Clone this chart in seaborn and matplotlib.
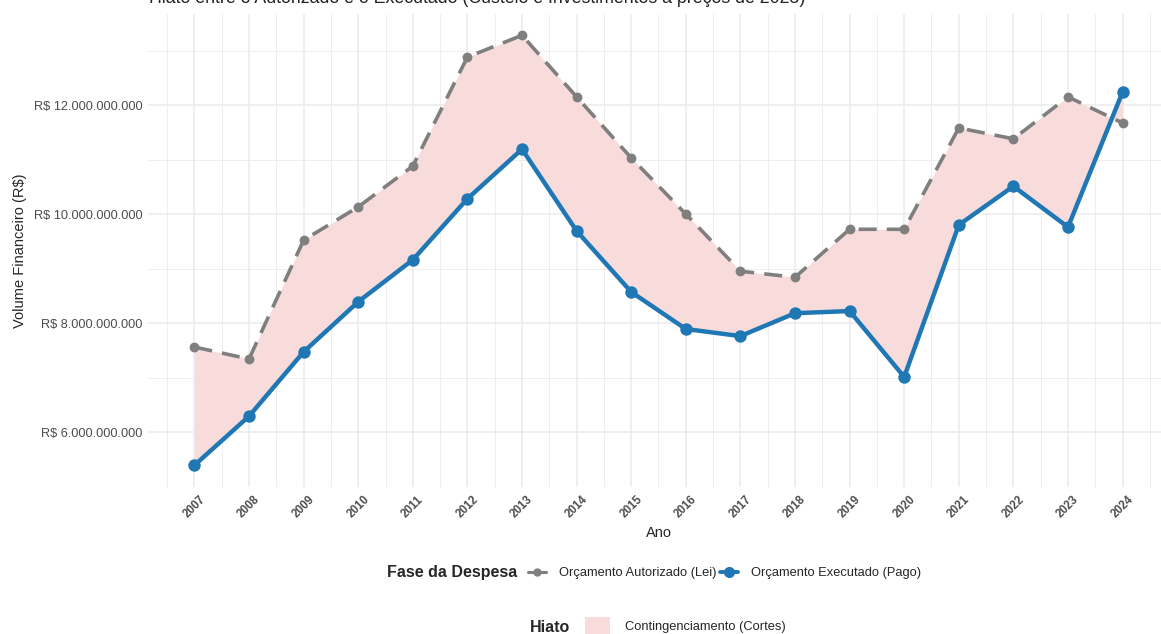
import numpy as np
import pandas as pd
import matplotlib.pyplot as plt
import seaborn as sns
from matplotlib.lines import Line2D
from matplotlib.patches import Patch

# --------------------------------------------------
# DATA (R$, precos de 2025)
# --------------------------------------------------

anos = list(range(2007, 2025))

autorizado = [
    7.56, 7.34, 9.52, 10.13, 10.88, 12.88, 13.28, 12.15, 11.03,
    10.00, 8.95, 8.84, 9.72, 9.72, 11.58, 11.38, 12.15, 11.67
]

executado = [
    5.39, 6.29, 7.47, 8.39, 9.16, 10.28, 11.19, 9.69, 8.57,
    7.89, 7.76, 8.18, 8.22, 7.01, 9.80, 10.51, 9.76, 12.24
]

y_ticks = [6e9, 8e9, 10e9, 12e9]

label_aut = "Orçamento Autorizado (Lei)"
label_exe = "Orçamento Executado (Pago)"

df = pd.DataFrame({
    "Ano": anos * 2,
    "Valor": [v * 1e9 for v in autorizado] + [v * 1e9 for v in executado],
    "Fase": [label_aut] * len(anos) + [label_exe] * len(anos),
})

# --------------------------------------------------
# STYLE
# --------------------------------------------------

sns.set_theme(style="whitegrid")
plt.rcParams["font.family"] = ["Liberation Sans", "DejaVu Sans"]

cor_aut = "#7F7F7F"
cor_exe = "#1F77B4"
cor_hiato = "#F8DCDC"
cor_grid = "#EBEBEB"
cor_txt = "#4D4D4D"

fig = plt.figure(figsize=(11.61, 6.34), dpi=100)
# panel runs a bit past the right edge, as in the reference
ax = fig.add_axes([148 / 1161, 0.2323, 1021 / 1161, 0.7459])

# --------------------------------------------------
# RIBBON (HIATO)
# --------------------------------------------------

ax.fill_between(
    anos,
    [v * 1e9 for v in executado],
    [v * 1e9 for v in autorizado],
    color=cor_hiato,
    linewidth=0,
    zorder=1
)

# --------------------------------------------------
# LINES
# --------------------------------------------------

sns.lineplot(
    data=df[df["Fase"] == label_aut],
    x="Ano", y="Valor",
    color=cor_aut,
    linewidth=2.6,
    ax=ax,
    zorder=3,
    legend=False
)
ax.lines[-1].set_dashes([5, 2.8])
ax.lines[-1].set_dash_capstyle("butt")

sns.scatterplot(
    data=df[df["Fase"] == label_aut],
    x="Ano", y="Valor",
    color=cor_aut, s=50, linewidth=0,
    ax=ax, zorder=4, legend=False
)

sns.lineplot(
    data=df[df["Fase"] == label_exe],
    x="Ano", y="Valor",
    color=cor_exe,
    linewidth=3.2,
    ax=ax,
    zorder=5,
    legend=False
)

sns.scatterplot(
    data=df[df["Fase"] == label_exe],
    x="Ano", y="Valor",
    color=cor_exe, s=80, linewidth=0,
    ax=ax, zorder=6, legend=False
)

# --------------------------------------------------
# AXES
# --------------------------------------------------

ax.set_xticks(anos)
ax.set_xticklabels([str(a) for a in anos], rotation=45, fontsize=8.3,
                   color=cor_txt, fontweight="bold")
ax.set_xticks([a - 0.5 for a in anos] + [2024.5], minor=True)

ax.set_yticks(y_ticks)
ax.set_yticklabels(
    ["R$ " + f"{int(v):,}".replace(",", ".") for v in y_ticks],
    fontsize=9.2, color=cor_txt
)
ax.set_yticks([5e9, 7e9, 9e9, 11e9, 13e9], minor=True)

ax.set_xlim(2006.15, 2024.85)
ax.set_ylim(4.996e9, 13.674e9)

ax.grid(which="major", color=cor_grid, linewidth=1.1)
ax.grid(which="minor", color=cor_grid, linewidth=0.6)
ax.tick_params(axis="x", which="both", length=0, pad=5)
ax.tick_params(axis="y", which="both", length=0, pad=4)
for s in ax.spines.values():
    s.set_visible(False)

ax.set_xlabel("Ano", fontsize=10.5, labelpad=4)
ax.set_ylabel("Volume Financeiro (R$)", fontsize=10.5, labelpad=5)

# --------------------------------------------------
# TITLE (partially outside the canvas, as in the reference)
# --------------------------------------------------

fig.text(
    149 / 1161, 1.002,
    "Hiato entre o Autorizado e o Executado (Custeio e Investimentos a preços de 2025)",
    fontsize=12.8, va="center", ha="left", color="#222222"
)

# --------------------------------------------------
# LEGENDS
# --------------------------------------------------

fig.text(517 / 1161, 1 - 573 / 634, "Fase da Despesa",
         fontsize=11.5, fontweight="bold", ha="right", va="center")

handles = [
    Line2D([0], [0], color=cor_aut, lw=2.2, marker="o", ms=5),
    Line2D([0], [0], color=cor_exe, lw=2.8, marker="o", ms=7),
]
fig.legend(
    handles, [label_aut, label_exe],
    loc="center left", bbox_to_anchor=(516 / 1161, 1 - 573 / 634),
    ncol=2, frameon=False, fontsize=9.3, handlelength=1.4,
    handletextpad=1.0, columnspacing=0.3
)

fig.text(570 / 1161, 1 - 627 / 634, "Hiato",
         fontsize=11.5, fontweight="bold", ha="right", va="center")

fig.legend(
    [Patch(facecolor=cor_hiato, edgecolor="none")],
    ["Contingenciamento (Cortes)"],
    loc="center left", bbox_to_anchor=(573 / 1161, 1 - 626 / 634),
    frameon=False, fontsize=9.3, handlelength=2.0, handleheight=1.8,
    handletextpad=1.1
)

plt.savefig("out.png", dpi=100)
plt.close()
